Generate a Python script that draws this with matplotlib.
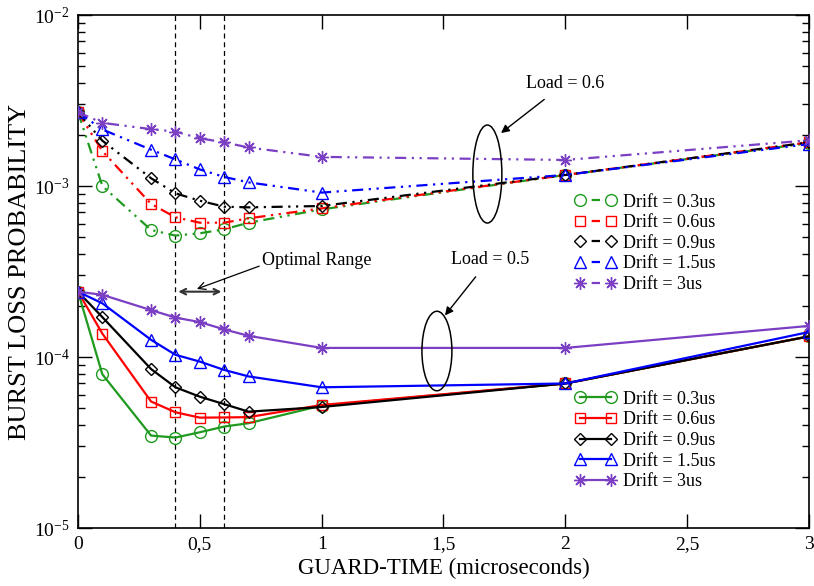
import matplotlib
matplotlib.use("Agg")
import matplotlib.pyplot as plt
from matplotlib.lines import Line2D
from matplotlib.patches import Ellipse
from matplotlib.ticker import FixedLocator, FixedFormatter, LogLocator, NullFormatter

plt.rcParams["font.family"] = ["Liberation Serif", "DejaVu Serif"]
plt.rcParams["mathtext.fontset"] = "custom"
plt.rcParams["mathtext.rm"] = "Liberation Serif"

guard = [0, 0.1, 0.3, 0.4, 0.5, 0.6, 0.7, 1, 2, 3]
drifts = ["0.3us", "0.6us", "0.9us", "1.5us", "3us"]

# load = 0.6 (dash-dot-dot curves)
load06_d03 = [2.7e-3, 1.00e-3, 5.53e-4, 5.13e-4, 5.29e-4, 5.58e-4, 6.1e-4, 7.3e-4, 1.16e-3, 1.78e-3]
load06_d06 = [2.7e-3, 1.60e-3, 7.85e-4, 6.56e-4, 6.1e-4, 6.1e-4, 6.47e-4, 7.4e-4, 1.16e-3, 1.80e-3]
load06_d09 = [2.7e-3, 1.84e-3, 1.11e-3, 9.06e-4, 8.2e-4, 7.57e-4, 7.5e-4, 7.64e-4, 1.16e-3, 1.80e-3]
load06_d15 = [2.7e-3, 2.14e-3, 1.63e-3, 1.43e-3, 1.25e-3, 1.13e-3, 1.05e-3, 9.15e-4, 1.16e-3, 1.76e-3]
load06_d3 = [2.7e-3, 2.34e-3, 2.15e-3, 2.08e-3, 1.90e-3, 1.80e-3, 1.68e-3, 1.48e-3, 1.42e-3, 1.85e-3]

# load = 0.5 (solid curves)
load05_d03 = [2.41e-4, 7.92e-5, 3.47e-5, 3.38e-5, 3.63e-5, 3.92e-5, 4.1e-5, 5.2e-5, 7.0e-5, 1.32e-4]
load05_d06 = [2.41e-4, 1.37e-4, 5.49e-5, 4.75e-5, 4.42e-5, 4.43e-5, 4.45e-5, 5.24e-5, 7.0e-5, 1.32e-4]
load05_d09 = [2.41e-4, 1.71e-4, 8.5e-5, 6.65e-5, 5.86e-5, 5.3e-5, 4.79e-5, 5.1e-5, 7.0e-5, 1.32e-4]
load05_d15 = [2.41e-4, 2.06e-4, 1.26e-4, 1.03e-4, 9.4e-5, 8.4e-5, 7.7e-5, 6.65e-5, 7.0e-5, 1.40e-4]
load05_d3 = [2.41e-4, 2.31e-4, 1.88e-4, 1.70e-4, 1.60e-4, 1.45e-4, 1.33e-4, 1.13e-4, 1.13e-4, 1.52e-4]

xticks = [0, 0.5, 1, 1.5, 2, 2.5, 3]
xtick_labels = ["0", "0,5", "1", "1,5", "2", "2,5", "3"]

COLORS = ["#1f9a1f", "#ff0000", "#000000", "#0000ff", "#7b3fc4"]
MARKERS = ["o", "s", "D", "^", (8, 2, 0)]
MSIZES = [8.5, 7.5, 6, 8.5, 9]
DASHDOTDOT = (0, (5, 2.5, 1, 2.5, 1, 2.5))
LEG_DASH = (13.5, (3.75, 15))   # single centred dash in the legend sample

fig = plt.figure(figsize=(8.14, 5.86), dpi=100)
ax = fig.add_axes([78 / 814, 58 / 586, 731 / 814, 513 / 586])
ax.set_yscale("log")
ax.set_xlim(0, 3)
ax.set_ylim(1e-5, 1e-2)

upper = [load06_d03, load06_d06, load06_d09, load06_d15, load06_d3]
lower = [load05_d03, load05_d06, load05_d09, load05_d15, load05_d3]

h_up, h_lo = [], []
for vals, c, m, ms, d in zip(upper, COLORS, MARKERS, MSIZES, drifts):
    ax.plot(guard, vals, linestyle=DASHDOTDOT, color=c, lw=1.6,
            marker=m, ms=ms, mfc="none", mec=c, mew=1.0, zorder=3)
    h_up.append(Line2D([], [], linestyle=LEG_DASH, color=c, lw=1.6,
                       marker=m, ms=ms, mfc="none", mec=c, mew=1.0,
                       label="Drift = " + d))
for vals, c, m, ms, d in zip(lower, COLORS, MARKERS, MSIZES, drifts):
    (ln,) = ax.plot(guard, vals, linestyle="-", color=c, lw=1.6,
                    marker=m, ms=ms, mfc="none", mec=c, mew=1.0,
                    label="Drift = " + d, zorder=3)
    h_lo.append(ln)

# optimal range markers
for xv in (0.4, 0.6):
    ax.axvline(xv, color="black", lw=0.9, linestyle=(0, (4, 3)), zorder=2)
ax.annotate("", xy=(0.4, 2.41e-4), xytext=(0.6, 2.41e-4),
            arrowprops=dict(arrowstyle="<->", color="#333333", lw=1.5))
ax.annotate("Optimal Range", xy=(0.488, 2.5e-4), xytext=(0.755, 3.69e-4),
            fontsize=13, va="center", ha="left",
            arrowprops=dict(arrowstyle="->", color="black", lw=0.9,
                            shrinkA=0, shrinkB=0, relpos=(0, 0.2)))

# load annotations
ax.add_patch(Ellipse((0.560, 0.690), 0.0397, 0.191, transform=ax.transAxes,
                     fill=False, ec="black", lw=1.1, zorder=4))
ax.add_patch(Ellipse((0.491, 0.345), 0.041, 0.155, transform=ax.transAxes,
                     fill=False, ec="black", lw=1.1, zorder=4))
ax.annotate("Load = 0.6", xy=(1.736, 2.04e-3), xytext=(2.0, 4.0e-3),
            fontsize=13, ha="center", va="center",
            arrowprops=dict(arrowstyle="-|>", color="black", lw=1.0,
                            shrinkA=6, shrinkB=0, mutation_scale=12))
ax.annotate("Load = 0.5", xy=(1.506, 1.75e-4), xytext=(1.69, 3.74e-4),
            fontsize=13, ha="center", va="center",
            arrowprops=dict(arrowstyle="-|>", color="black", lw=1.0,
                            shrinkA=6, shrinkB=0, mutation_scale=12))

leg_kw = dict(frameon=False, fontsize=13, numpoints=2, handlelength=2.3,
              handletextpad=0.35, labelspacing=0.2, borderpad=0,
              borderaxespad=0, loc="center left")
leg1 = ax.legend(handles=h_up, bbox_to_anchor=(0.68, 0.555), **leg_kw)
ax.add_artist(leg1)
ax.legend(handles=h_lo, bbox_to_anchor=(0.68, 0.1706), **leg_kw)

ax.xaxis.set_major_locator(FixedLocator(xticks))
ax.xaxis.set_major_formatter(FixedFormatter(xtick_labels))
ax.yaxis.set_major_locator(LogLocator(base=10, numticks=10))
ax.yaxis.set_minor_locator(LogLocator(base=10, subs=range(2, 10), numticks=20))
ax.yaxis.set_minor_formatter(NullFormatter())
ax.tick_params(which="both", direction="in", top=True, right=True,
               labelsize=14, pad=6)
ax.tick_params(which="major", length=10, width=1)
ax.tick_params(which="minor", length=5, width=1)
for s in ax.spines.values():
    s.set_linewidth(1.2)

ax.set_xlabel("GUARD-TIME (microseconds)", fontsize=16.5, labelpad=3)
ax.set_ylabel("BURST LOSS PROBABILITY", fontsize=19, labelpad=2)

fig.savefig("out.png", dpi=100)
